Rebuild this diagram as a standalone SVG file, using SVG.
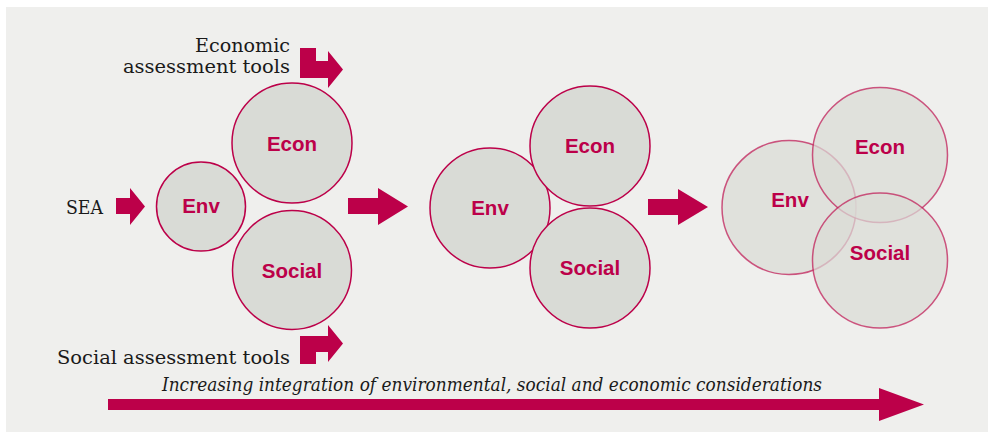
<svg xmlns="http://www.w3.org/2000/svg" width="993" height="432" viewBox="0 0 993 432">
<defs>
<style>
.bg{fill:#efefed}
.arr{fill:#bc0049}
.c1{fill:#d9dbd6;stroke:#bc0049;stroke-width:1.5}
.c3{fill:#d9dbd6;fill-opacity:0.72;stroke:#c0205a;stroke-opacity:0.75;stroke-width:1.5}
.lbl{font-family:"Liberation Sans",Arial,sans-serif;font-weight:bold;font-size:20.5px;fill:#bc0049;text-anchor:middle}
.ser{font-family:"DejaVu Serif","Liberation Serif",serif;font-size:19px;fill:#1a1a1a}
.it{font-family:"DejaVu Serif","Liberation Serif",serif;font-style:italic;font-size:18.5px;fill:#1a1a1a}
</style>
</defs>
<rect class="bg" x="6" y="7" width="982" height="425"/>

<g id="connectors">
<polygon class="arr" points="116,198 130,198 130,188 145,206.5 130,225 130,214 116,214"/>
<polygon class="arr" points="348,198 378,198 378,188 408,206.5 378,225 378,214 348,214"/>
<polygon class="arr" points="648,199 678,199 678,189 708,207 678,225 678,215 648,215"/>
<polygon class="arr" points="300,48 316,48 316,61 328,61 328,51 343,69.5 328,88 328,78 300,78"/>
<polygon class="arr" points="300,336 328,336 328,325 343,343.5 328,362 328,352 316,352 316,364 300,364"/>
<polygon class="arr" points="108,399 879,399 879,388 924,404.5 879,421 879,410 108,410"/>
</g>

<g id="label-econ-tools">
<text class="ser" x="290" y="52" text-anchor="end" textLength="95" lengthAdjust="spacingAndGlyphs">Economic</text>
<text class="ser" x="290" y="73" text-anchor="end" textLength="167" lengthAdjust="spacingAndGlyphs">assessment tools</text>
</g>
<g id="label-sea"><text class="ser" x="66" y="214" textLength="37" lengthAdjust="spacingAndGlyphs">SEA</text></g>
<g id="label-social-tools"><text class="ser" x="290" y="364" text-anchor="end" textLength="233" lengthAdjust="spacingAndGlyphs">Social assessment tools</text></g>
<g id="label-integration"><text class="it" x="162" y="391" textLength="660" lengthAdjust="spacingAndGlyphs">Increasing integration of environmental, social and economic considerations</text></g>

<g id="s1-env"><circle class="c1" cx="201" cy="206.5" r="44.5"/><text class="lbl" x="201" y="213">Env</text></g>
<g id="s1-econ"><circle class="c1" cx="292" cy="143" r="60"/><text class="lbl" x="292" y="151">Econ</text></g>
<g id="s1-social"><circle class="c1" cx="292" cy="270" r="59.5"/><text class="lbl" x="292" y="278">Social</text></g>

<g id="s2-env"><circle class="c1" cx="490" cy="208" r="60"/><text class="lbl" x="490" y="215">Env</text></g>
<g id="s2-econ"><circle class="c1" cx="590" cy="146" r="60"/><text class="lbl" x="590" y="153">Econ</text></g>
<g id="s2-social"><circle class="c1" cx="590" cy="268" r="60"/><text class="lbl" x="590" y="275">Social</text></g>

<g id="s3-env"><circle class="c3" cx="789" cy="207.5" r="67"/><text class="lbl" x="790" y="207">Env</text></g>
<g id="s3-econ"><circle class="c3" cx="880" cy="155" r="67.5"/><text class="lbl" x="880" y="154">Econ</text></g>
<g id="s3-social"><circle class="c3" cx="880" cy="260.5" r="67.5"/><text class="lbl" x="880" y="260">Social</text></g>
</svg>
